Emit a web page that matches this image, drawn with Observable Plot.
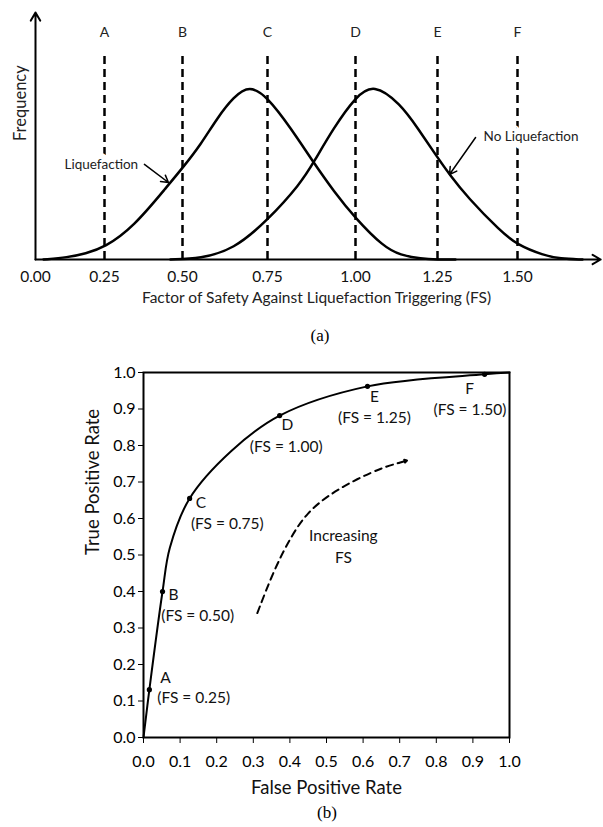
<!DOCTYPE html>
<html><head><meta charset="utf-8">
<script src="https://cdn.jsdelivr.net/npm/d3@7"></script>
<script src="https://cdn.jsdelivr.net/npm/@observablehq/plot@0.6"></script>
<style>
html,body{margin:0;padding:0;background:#fff;}
#wrap{position:relative;width:603px;height:827px;overflow:hidden;background:#fff;}
#a{position:absolute;left:0;top:0;}
#b{position:absolute;left:0;top:350px;}
.cap{position:absolute;font-family:"Liberation Serif","Times New Roman",serif;font-size:17px;color:#000;transform:translate(-50%,-50%);white-space:nowrap;}
</style></head><body>
<div id="wrap">
  <div id="a"></div>
  <div class="cap" style="left:320px;top:336px">(a)</div>
  <div id="b"></div>
  <div class="cap" style="left:327px;top:813px">(b)</div>
</div>
<script>
// ---------- Panel (a) data ----------
const fsThresholds = [0.25, 0.5, 0.75, 1.0, 1.25, 1.5];
const thresholdLabels = ["A", "B", "C", "D", "E", "F"];
const fsTicks = [0, 0.25, 0.5, 0.75, 1.0, 1.25, 1.5];

const liqFS   = [0.029, 0.116, 0.181, 0.25, 0.343, 0.452, 0.5, 0.553, 0.603, 0.65, 0.697, 0.75, 0.815, 0.881, 0.938, 1.0, 1.085, 1.137, 1.2, 1.25, 1.306];
const liqFreq = [0.0, 0.012, 0.035, 0.07, 0.19, 0.43, 0.535, 0.67, 0.83, 0.95, 1.02, 0.95, 0.772, 0.567, 0.40, 0.24, 0.075, 0.025, 0.004, 0.0, 0.0];

const noLiqFS   = [0.4615, 0.553, 0.65, 0.75, 0.844, 0.881, 0.938, 1.0, 1.055, 1.137, 1.189, 1.25, 1.2875, 1.344, 1.447, 1.5, 1.581, 1.634, 1.703];
const noLiqFreq = [0.0, 0.006, 0.058, 0.228, 0.444, 0.567, 0.77, 0.95, 1.03, 0.91, 0.77, 0.596, 0.497, 0.363, 0.165, 0.085, 0.025, 0.004, 0.0];

const curveNamesA = ["Liquefaction", "No Liquefaction"];
const curveNameFS = [0.105, 1.394];
const curveNameFreq = [0.556, 0.719];
const pointerFrom = [[0.378, 0.556], [1.369, 0.713]];
const pointerTo   = [[0.455, 0.45], [1.2875, 0.497]];

// ---------- Panel (b) data ----------
const rateTicks = [0, 0.1, 0.2, 0.3, 0.4, 0.5, 0.6, 0.7, 0.8, 0.9, 1.0];
const rocFPR = [0, 0.016, 0.052, 0.072, 0.126, 0.24, 0.372, 0.612, 0.932, 1.0];
const rocTPR = [0, 0.131, 0.40, 0.52, 0.655, 0.785, 0.882, 0.962, 0.995, 1.0];

const pointFPR = [0.016, 0.052, 0.126, 0.372, 0.612, 0.932];
const pointTPR = [0.131, 0.40, 0.655, 0.882, 0.962, 0.995];
const pointLetters = ["A", "B", "C", "D", "E", "F"];
const pointFSLabels = ["(FS = 0.25)", "(FS = 0.50)", "(FS = 0.75)", "(FS = 1.00)", "(FS = 1.25)", "(FS = 1.50)"];
const letterFPR = [0.060, 0.082, 0.157, 0.393, 0.631, 0.891];
const letterTPR = [0.164, 0.389, 0.642, 0.855, 0.932, 0.955];
const fsLabelFPR = [0.137, 0.148, 0.229, 0.390, 0.631, 0.892];
const fsLabelTPR = [0.107, 0.332, 0.585, 0.795, 0.875, 0.898];

const trendFPR = [0.311, 0.356, 0.402, 0.447, 0.511, 0.584, 0.657, 0.697];
const trendTPR = [0.341, 0.458, 0.549, 0.617, 0.668, 0.709, 0.741, 0.752];
const trendHeadFPR = [0.697, 0.720];
const trendHeadTPR = [0.752, 0.759];

// ---------- build tables ----------
const liq = liqFS.map((x, i) => ({x, y: liqFreq[i]}));
const noLiq = noLiqFS.map((x, i) => ({x, y: noLiqFreq[i]}));
const namesA = curveNamesA.map((t, i) => ({t, x: curveNameFS[i], y: curveNameFreq[i]}));
const pointers = pointerFrom.map((p, i) => ({x1: p[0], y1: p[1], x2: pointerTo[i][0], y2: pointerTo[i][1]}));
const thresholds = fsThresholds.map((x, i) => ({x, label: thresholdLabels[i]}));

const roc = rocFPR.map((x, i) => ({x, y: rocTPR[i]}));
const pts = pointFPR.map((x, i) => ({x, y: pointTPR[i]}));
const letters = pointLetters.map((t, i) => ({t, x: letterFPR[i], y: letterTPR[i]}));
const fsLabels = pointFSLabels.map((t, i) => ({t, x: fsLabelFPR[i], y: fsLabelTPR[i]}));
const trend = trendFPR.map((x, i) => ({x, y: trendTPR[i]}));
const trendHead = [{x1: trendHeadFPR[0], y1: trendHeadTPR[0], x2: trendHeadFPR[1], y2: trendHeadTPR[1]}];

const font = "Lato, 'Open Sans', sans-serif";

const chartA = Plot.plot({
  width: 603, height: 312,
  marginLeft: 35, marginRight: 6, marginTop: 12, marginBottom: 53,
  style: {fontFamily: font, fontSize: "15.5px", color: "#111", background: "white"},
  x: {
    type: "linear",
    domain: [0, 0.25, 0.5, 0.75, 1.0, 1.25, 1.5, 1.75],
    range: [35, 104, 182, 267, 355, 437, 517, 597],
    ticks: fsTicks, tickFormat: d => d.toFixed(2), tickSize: 0, tickPadding: 11, label: null
  },
  y: {domain: [0, 1.444], axis: null},
  marks: [
    Plot.ruleX(thresholds, {x: "x", y1: 0, y2: 1.21, stroke: "#000", strokeWidth: 2.5, strokeDasharray: "8,5"}),
    Plot.text(thresholds, {x: "x", y: 1.327, text: "label", fontSize: 14, fill: "#222"}),
    Plot.line(liq, {x: "x", y: "y", curve: "basis", stroke: "#000", strokeWidth: 2.5}),
    Plot.line(noLiq, {x: "x", y: "y", curve: "basis", stroke: "#000", strokeWidth: 2.5}),
    Plot.text(namesA, {x: "x", y: "y", text: "t", textAnchor: "start", fontSize: 13.5, fill: "#222", stroke: "white", strokeWidth: 12}),
    Plot.arrow(pointers, {x1: "x1", y1: "y1", x2: "x2", y2: "y2", stroke: "#000", strokeWidth: 1.5, headLength: 8}),
    Plot.arrow([0], {x1: 0, y1: 0, x2: 0, y2: 1.444, stroke: "#000", strokeWidth: 2, headLength: 7}),
    Plot.arrow([0], {x1: 0, y1: 0, x2: 1.76, y2: 0, stroke: "#000", strokeWidth: 2, headLength: 7}),
    Plot.text(["Frequency"], {frameAnchor: "left", dx: -15, dy: 5, rotate: -90, fontSize: 16.5, fill: "#222"}),
    Plot.text(["Factor of Safety Against Liquefaction Triggering (FS)"], {frameAnchor: "bottom", dy: 43, fontSize: 15.5, fill: "#222"})
  ]
});
document.getElementById("a").appendChild(chartA);

const chartB = Plot.plot({
  width: 603, height: 450,
  marginLeft: 143, marginRight: 94, marginTop: 22, marginBottom: 63,
  style: {fontFamily: font, fontSize: "16px", color: "#000", background: "white"},
  x: {domain: [0, 1], ticks: rateTicks, tickFormat: ".1f", tickSize: 6, tickPadding: 12, label: null},
  y: {domain: [0, 1], ticks: rateTicks, tickFormat: ".1f", tickSize: 5, tickPadding: 3, label: null},
  marks: [
    Plot.frame({stroke: "#000", strokeWidth: 2}),
    Plot.line(roc, {x: "x", y: "y", curve: "catmull-rom", stroke: "#000", strokeWidth: 2}),
    Plot.dot(pts, {x: "x", y: "y", r: 2.6, fill: "#000"}),
    Plot.text(letters, {x: "x", y: "y", text: "t", fontSize: 15.5, fill: "#111"}),
    Plot.text(fsLabels, {x: "x", y: "y", text: "t", fontSize: 15.5, fill: "#111"}),
    Plot.line(trend, {x: "x", y: "y", curve: "basis", stroke: "#000", strokeWidth: 2, strokeDasharray: "7,5"}),
    Plot.arrow(trendHead, {x1: "x1", y1: "y1", x2: "x2", y2: "y2", stroke: "#000", strokeWidth: 2, headLength: 11}),
    Plot.text(["Increasing\nFS"], {x: 0.546, y: 0.527, lineHeight: 1.4, fontSize: 15.5, fill: "#111"}),
    Plot.text(["False Positive Rate"], {frameAnchor: "bottom", dy: 56, fontSize: 18.5, fill: "#111"}),
    Plot.text(["True Positive Rate"], {frameAnchor: "left", dx: -50, rotate: -90, fontSize: 18.5, fill: "#111"})
  ]
});
document.getElementById("b").appendChild(chartB);
</script>
</body></html>
